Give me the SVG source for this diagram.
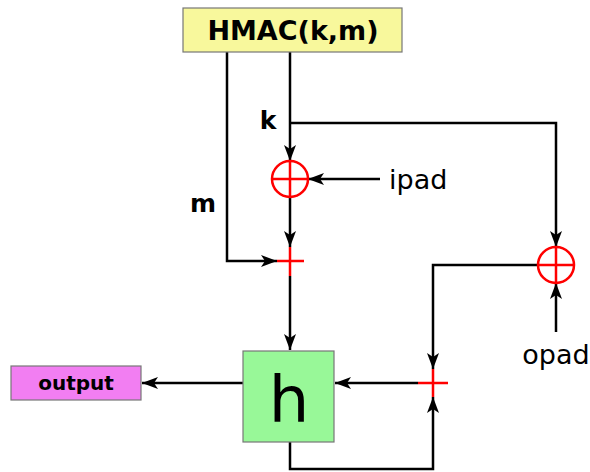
<svg xmlns="http://www.w3.org/2000/svg" width="590" height="472" viewBox="0 0 590 472">
<style>
.ln{fill:none;stroke:#000;stroke-width:2.5}
.red{fill:none;stroke:#ff0000;stroke-width:2.5}
.box{stroke:#777;stroke-width:1.2}
.b{font-family:"DejaVu Sans",sans-serif;font-weight:bold;fill:#000}
.n{font-family:"DejaVu Sans",sans-serif;fill:#000}
</style>
<defs>
<marker id="ar" viewBox="-17 -7 19 14" markerWidth="19" markerHeight="14" refX="0" refY="0" orient="auto" markerUnits="userSpaceOnUse">
<path d="M0,0 L-16,-6 L-12,0 L-16,6 Z" fill="#000"/>
</marker>
</defs>
<rect width="590" height="472" fill="#fff"/>
<g id="connectors">
<path class="ln" d="M290,52 V161" marker-end="url(#ar)"/>
<path class="ln" d="M290,123 H556 V247" marker-end="url(#ar)"/>
<path class="ln" d="M380,179 H308" marker-end="url(#ar)"/>
<path class="ln" d="M290,197 V247" marker-end="url(#ar)"/>
<path class="ln" d="M227,52 V261 H277" marker-end="url(#ar)"/>
<path class="ln" d="M290,276 V350" marker-end="url(#ar)"/>
<path class="ln" d="M538,265 H433 V369" marker-end="url(#ar)"/>
<path class="ln" d="M556,332 V283" marker-end="url(#ar)"/>
<path class="ln" d="M418,383 H335" marker-end="url(#ar)"/>
<path class="ln" d="M290,442 V469 H433 V397" marker-end="url(#ar)"/>
<path class="ln" d="M243,383 H142" marker-end="url(#ar)"/>
</g>
<g id="hmac">
<rect class="box" x="183" y="8" width="219" height="44" fill="#f8f89c"/>
<text class="b" x="293" y="40" font-size="27" text-anchor="middle">HMAC(k,m)</text>
</g>
<g id="label-k"><text class="b" x="268" y="129" font-size="25" text-anchor="middle">k</text></g>
<g id="label-m"><text class="b" x="203" y="212" font-size="25" text-anchor="middle">m</text></g>
<g id="xor-ipad">
<circle class="red" cx="290" cy="179" r="18"/>
<path class="red" d="M272,179 H308 M290,161 V197"/>
</g>
<g id="ipad"><text class="n" x="389" y="189" font-size="27">ipad</text></g>
<g id="plus-inner">
<path class="red" d="M277,261 H304 M290,247 V276"/>
</g>
<g id="xor-opad">
<circle class="red" cx="556" cy="265" r="18"/>
<path class="red" d="M538,265 H574 M556,247 V283"/>
</g>
<g id="opad"><text class="n" x="556" y="364" font-size="27" text-anchor="middle">opad</text></g>
<g id="plus-outer">
<path class="red" d="M418,383 H448 M433,369 V397"/>
</g>
<g id="h">
<rect class="box" x="243" y="351" width="91" height="91" fill="#98f898"/>
<text class="n" x="289" y="422" font-size="64" text-anchor="middle">h</text>
</g>
<g id="output">
<rect class="box" x="11" y="366" width="130" height="34" fill="#f27ef2"/>
<text class="b" x="76" y="390" font-size="20" text-anchor="middle">output</text>
</g>
</svg>
